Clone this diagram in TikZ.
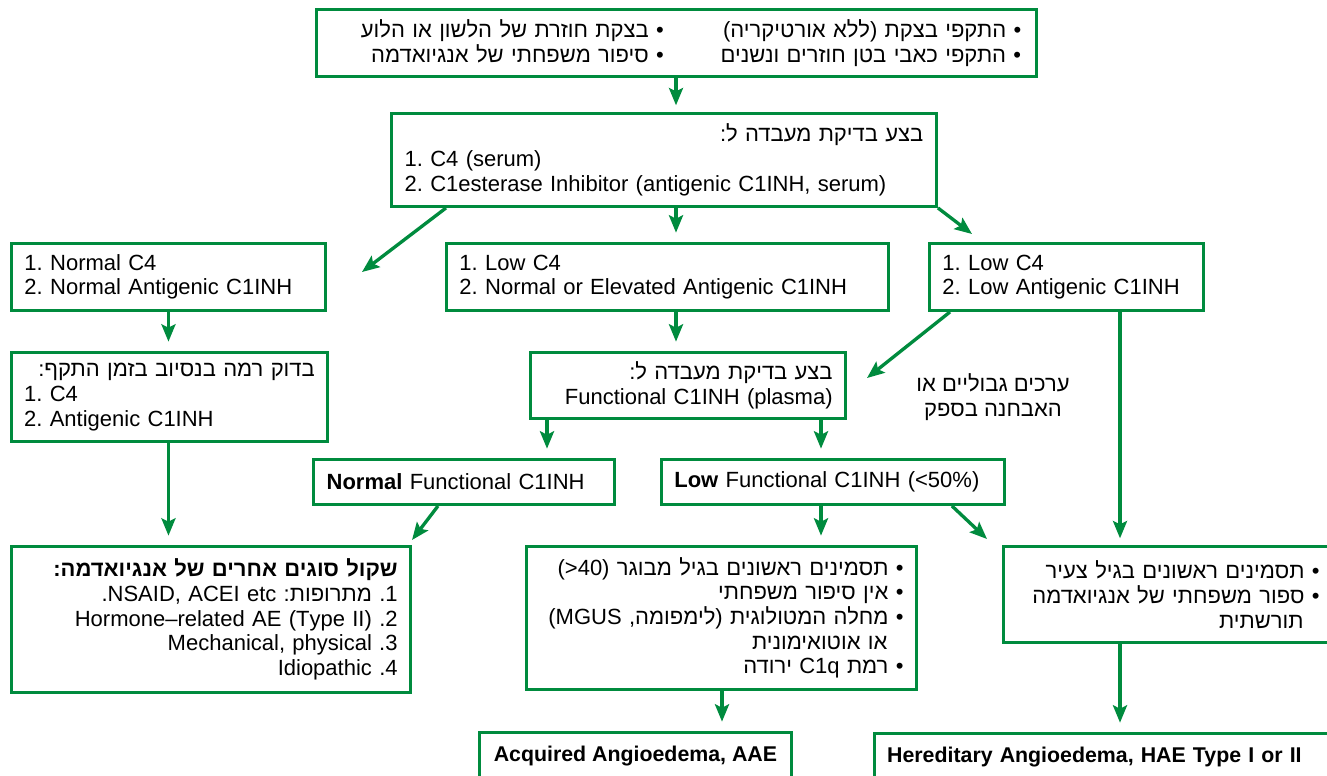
\documentclass[tikz,border=0pt]{standalone}
\usepackage{fontspec}
\setmainfont{Liberation Sans}
\newfontfamily\hebfont[Script=Hebrew]{Liberation Sans}
\TeXXeTstate=1
\frenchspacing
\usetikzlibrary{arrows.meta, positioning}
\definecolor{Vert}{RGB}{0,139,62}
\newcommand\heb[1]{{\hebfont\beginR #1\endR}}
\newcommand\lat[1]{\beginL #1\endL}
\tikzset{boite/.style={rectangle, draw=Vert, line width=2.2pt, anchor=north west,
  inner xsep=9pt, inner ysep=2pt, align=left, font=\fontsize{16.5}{18.5}\selectfont}}
\tikzset{boiter/.style={boite, align=right}}
\tikzset{final/.style={boite, font=\fontsize{16}{19}\selectfont\bfseries}}
\tikzset{fl/.style={-{Stealth[length=13pt, width=10.5pt, inset=2.5pt]}, draw=Vert,
  line width=2.5pt, shorten >=7pt}}

\begin{document}
\begin{tikzpicture}[x=0.75pt, y=-0.75pt]
\useasboundingbox (0,0) rectangle (1327,775);
\clip (0,0) rectangle (1327,775);
\node[boite, minimum width=540pt, minimum height=50.25pt, text width=521pt] (top) at (315,8)
  {\makebox[251pt][r]{\heb{• בצקת חוזרת של הלשון או הלוע}}\makebox[268pt][r]{\heb{• התקפי בצקת (ללא אורטיקריה)}}\\
   \makebox[251pt][r]{\heb{• סיפור משפחתי של אנגיואדמה}}\makebox[268pt][r]{\heb{• התקפי כאבי בטן חוזרים ונשנים}}};
\node[boite, minimum width=408.75pt, minimum height=69.75pt, text width=389pt] (essai) at (390,112)
  {\hspace*{\fill}\heb{בצע בדיקת מעבדה ל:}\\
   1. C4 (serum)\\
   2. C1esterase Inhibitor (antigenic C1INH, serum)};
\node[boite, minimum width=235.5pt, minimum height=50.25pt, text width=216pt] (normal) at (10,242)
  {1. Normal C4\\2. Normal Antigenic C1INH};
\node[boite, minimum width=331.5pt, minimum height=50.25pt, text width=312pt] (basC4) at (445,242)
  {1. Low C4\\2. Normal or Elevated Antigenic C1INH};
\node[boite, minimum width=205.5pt, minimum height=50.25pt, text width=186pt] (basbas) at (928,242)
  {1. Low C4\\2. Low Antigenic C1INH};
\node[boite, minimum width=237pt, minimum height=66.75pt, text width=218pt] (crise) at (10,351)
  {\hspace*{\fill}\heb{בדוק רמה בנסיוב בזמן התקף:}\\
   1. C4\\
   2. Antigenic C1INH};
\node[boiter, minimum width=236.25pt, minimum height=49.5pt, text width=217pt] (fonct) at (529,351)
  {\heb{בצע בדיקת מעבדה ל:}\\Functional C1INH (plasma)};
\node[boite, align=center] (bornes) at (993,397)
  [draw=none, anchor=center] {\heb{ערכים גבוליים או}\\\heb{האבחנה בספק}};
\node[boite, minimum width=225.75pt, minimum height=33.75pt, text width=206pt] (fnormal) at (312,458)
  {\textbf{Normal} Functional C1INH};
\node[boite, minimum width=257.25pt, minimum height=33.75pt, text width=238pt] (fbas) at (660,458)
  {\textbf{Low} Functional C1INH (<50\%)};
\node[boiter, minimum width=299.25pt, minimum height=109.5pt, text width=280pt] (autres) at (10,545)
  {\heb{\bfseries שקול סוגים אחרים של אנגיואדמה:}\\
   \heb{1. מתרופות: \lat{NSAID, ACEI etc}.}\\
   \heb{2. \lat{Hormone–related AE (Type II)}}\\
   \heb{3. \lat{Mechanical, physical}}\\
   \heb{4. \lat{Idiopathic}}};
\node[boiter, minimum width=292.5pt, minimum height=107.25pt, text width=273pt] (acquis) at (525,545)
  {\heb{• תסמינים ראשונים בגיל מבוגר (40<)}\\
   \heb{• אין סיפור משפחתי}\\
   \heb{• מחלה המטולוגית (לימפומה, \lat{MGUS})}\\
   \heb{או אוטואימונית}\kern12pt\\
   \heb{• רמת \lat{C1q} ירודה}};
\node[boiter, inner xsep=0pt, minimum width=262pt, minimum height=72pt, text width=240pt] (hered) at (1002,545)
  {\heb{• תסמינים ראשונים בגיל צעיר}\kern14pt\\
   \heb{• ספור משפחתי של אנגיואדמה}\kern14pt\\
   \heb{תורשתית}\kern26pt};
\node[final, minimum width=234pt, minimum height=60pt] (aae) at (478,731)
  {\raisebox{8pt}[0pt][0pt]{Acquired Angioedema, AAE}};
\node[final, minimum width=375pt, minimum height=60pt, text width=356pt] (hae) at (873,732)
  {\raisebox{8pt}[0pt][0pt]{Hereditary Angioedema, HAE Type I or II}};
\coordinate (axe) at (676,0);
\coordinate (axf) at (547,0);
\coordinate (axl) at (821,0);
\coordinate (axa) at (722,0);
\coordinate (axh) at (1120,0);
\coordinate (pA) at (362,272);
\coordinate (pC) at (972,234);
\coordinate (pE) at (867,378);
\coordinate (pH) at (412,540);
\coordinate (pJ) at (987,539);
\draw[fl, shorten >=5pt] (top.south -| axe) -- (essai.north -| axe);
\draw[fl] (essai.south -| axe) -- (basC4.north -| axe);
\draw[fl, shorten >=0pt] ([xshift=42pt]essai.south west) -- (pA);
\draw[fl, shorten >=0pt] (essai.south east) -- (pC);
\draw[fl] (normal.south) -- (normal.south |- crise.north);
\draw[fl] (basC4.south -| axe) -- (fonct.north -| axe);
\draw[fl, shorten >=0pt] ([xshift=16.5pt]basbas.south west) -- (pE);
\draw[fl, shorten >=5pt] (basbas.south -| axh) -- (hered.north -| axh);
\draw[fl] (crise.south -| normal.south) -- (autres.north -| normal.south);
\draw[fl] (fonct.south -| axf) -- (fnormal.north -| axf);
\draw[fl] (fonct.south -| axl) -- (fbas.north -| axl);
\draw[fl, shorten >=0pt] ([xshift=94.5pt]fnormal.south west) -- (pH);
\draw[fl] (fbas.south -| axl) -- (acquis.north -| axl);
\draw[fl, shorten >=0pt] ([xshift=-40.5pt]fbas.south east) -- (pJ);
\draw[fl] (acquis.south -| axa) -- (aae.north -| axa);
\draw[fl] (hered.south -| axh) -- (hae.north -| axh);
\end{tikzpicture}
\end{document}
